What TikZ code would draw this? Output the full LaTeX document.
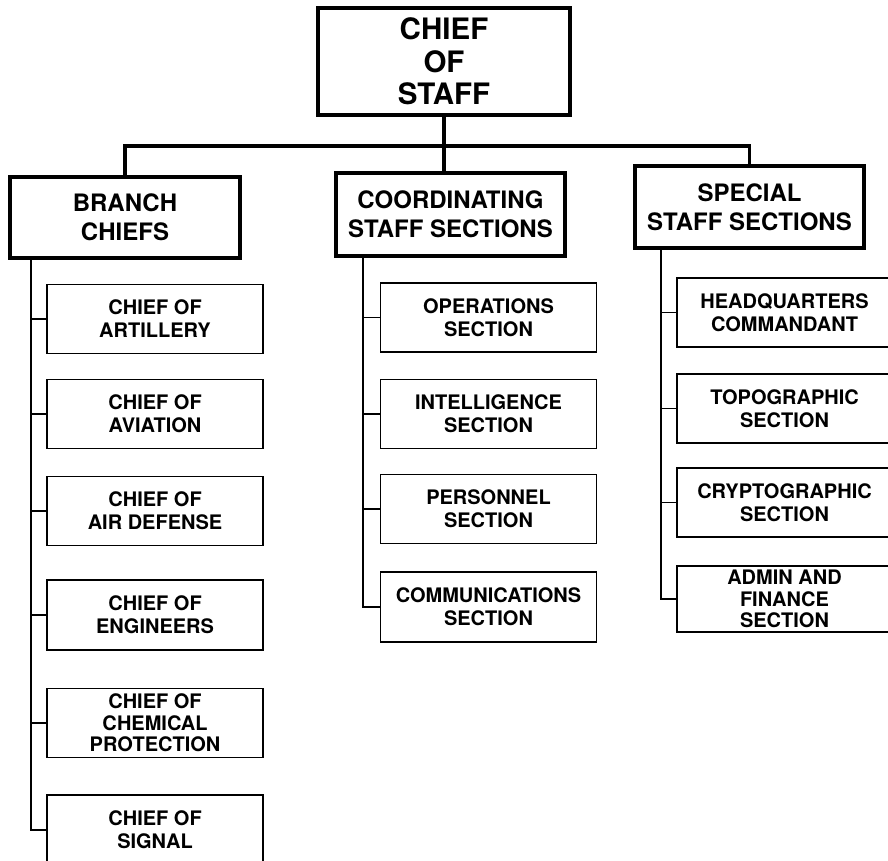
\documentclass[tikz,border=0pt]{standalone}
\usepackage{fontspec}
\setmainfont{TeX Gyre Heros}
\begin{document}
\begin{tikzpicture}[x=1pt,y=-1pt,
        head/.style={draw,line width=3.5pt,align=center,inner sep=0pt,
            font=\fontsize{24}{29}\selectfont\bfseries},
        sub/.style={draw,line width=1.6pt,align=center,inner sep=0pt,
            minimum width=216pt,minimum height=69pt,
            font=\fontsize{20}{23}\selectfont\bfseries},
        trunk/.style={line width=3.5pt},
        link/.style={line width=1.6pt}]
            \useasboundingbox (0,0) rectangle (888,861);
            \clip (0,0) rectangle (888,861);
            % top
            \node[head,minimum width=252pt,minimum height=107pt,
                font=\fontsize{29.5}{32.5}\selectfont\bfseries] (cos) at (444,61.5) {CHIEF\\OF\\STAFF};
            \node[head,minimum width=230pt,minimum height=81pt] (branch) at (125,217.5) {BRANCH\\CHIEFS};
            \node[head,minimum width=229pt,minimum height=83pt] (coord) at (450.5,214.5) {COORDINATING\\STAFF SECTIONS};
            \node[head,minimum width=229pt,minimum height=82pt] (special) at (749.5,207) {SPECIAL\\STAFF SECTIONS};
            \coordinate (bar) at (444,146);
            \draw[trunk] (cos.south) -- (bar) -| (branch.north);
            \draw[trunk] (bar) -| (special.north);
            \draw[trunk] (bar) -- (bar |- coord.north);
            % branch chiefs
            \node[sub] (art) at (155,319) {CHIEF OF\\ARTILLERY};
            \node[sub] (avi) at (155,414) {CHIEF OF\\AVIATION};
            \node[sub] (airdef) at (155,511) {CHIEF OF\\AIR DEFENSE};
            \node[sub,minimum height=70pt] (eng) at (155,615) {CHIEF OF\\ENGINEERS};
            \node[sub,font=\fontsize{20}{21.5}\selectfont\bfseries] (chem) at (155,723) {CHIEF OF\\CHEMICAL\\PROTECTION};
            \node[sub,minimum height=70pt] (sig) at (155,830) {CHIEF OF\\SIGNAL};
            \coordinate (bt) at ([xshift=23pt]branch.south west);
            \foreach \b in {art,avi,airdef,eng,chem,sig}
                \draw[link] (bt) |- (\b.west);
            % coordinating staff
            \node[sub] (ops) at (488.5,317.5) {OPERATIONS\\SECTION};
            \node[sub] (intel) at (488.5,414) {INTELLIGENCE\\SECTION};
            \node[sub] (pers) at (488.5,509) {PERSONNEL\\SECTION};
            \node[sub,minimum height=70pt] (comms) at (488.5,607) {COMMUNICATIONS\\SECTION};
            \coordinate (ct) at ([xshift=29pt]coord.south west);
            \foreach \b in {ops,intel,pers,comms}
                \draw[link] (ct) |- (\b.west);
            % special staff
            \node[sub,minimum width=215pt] (hq) at (784.5,312.5) {HEADQUARTERS\\COMMANDANT};
            \node[sub,minimum width=215pt] (topo) at (784.5,408.5) {TOPOGRAPHIC\\SECTION};
            \node[sub,minimum width=215pt] (crypto) at (784.5,502.5) {CRYPTOGRAPHIC\\SECTION};
            \node[sub,minimum width=215pt,minimum height=66pt,
                font=\fontsize{20}{21.5}\selectfont\bfseries] (admin) at (784.5,599) {ADMIN AND\\FINANCE\\SECTION};
            \coordinate (st) at ([xshift=28pt]special.south west);
            \foreach \b in {hq,topo,crypto,admin}
                \draw[link] (st) |- (\b.west);
        \end{tikzpicture}
\end{document}
